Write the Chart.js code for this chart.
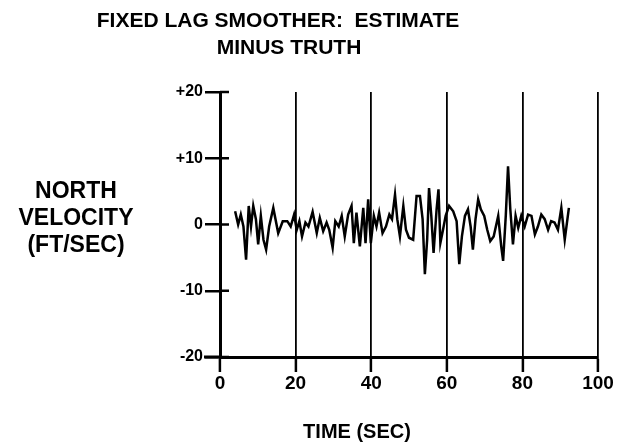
<!DOCTYPE html>
<html>
<head>
<meta charset="utf-8">
<script src="https://cdn.jsdelivr.net/npm/chart.js@4"></script>
<style>
  html, body { margin: 0; padding: 0; background: #fff; }
  canvas { display: block; }
</style>
</head>
<body>
<canvas id="smootherChart" width="617" height="445"></canvas>
<script>
// Values
const timeSec = [4.0, 4.8, 5.5, 6.2, 6.9, 7.6, 8.2, 8.8, 9.5, 10.1, 10.8, 11.5, 12.2, 13.0, 14.1, 15.4, 16.6, 17.8, 18.7, 19.6,
  20.3, 21.0, 21.7, 22.6, 23.4, 24.5, 25.6, 26.4, 27.3, 28.2, 28.9, 29.8, 30.5, 31.4, 32.2, 33.0, 33.9, 34.8, 35.4, 36.1,
  37.0, 37.9, 38.5, 39.2, 39.9, 40.7, 41.4, 42.1, 43.0, 43.9, 44.8, 45.5, 46.3, 46.9, 47.6, 48.5, 49.2, 50.0, 51.1, 52.0,
  52.9, 53.6, 54.2, 54.8, 55.3, 55.9, 56.5, 57.3, 57.8, 58.3, 59.0, 59.7, 60.6, 61.7, 62.6, 63.3, 64.0, 64.8, 65.6, 66.3,
  66.9, 67.6, 68.3, 69.0, 69.9, 70.7, 71.5, 72.4, 73.6, 74.4, 74.9, 75.6, 76.2, 76.8, 77.5, 78.2, 78.9, 79.7, 80.6, 81.5,
  82.4, 83.3, 84.1, 85.0, 85.9, 86.8, 87.6, 88.5, 89.4, 90.3, 91.2, 92.3];
const northVelocity = [2.0, 0.0, 1.5, -0.3, -5.3, 2.8, -0.3, 2.8, 0.8, -3.0, 1.3, -2.3, -3.8, -0.3, 2.5, -1.3, 0.5, 0.5, -0.3, 1.5,
  -0.8, 0.5, -1.8, 0.3, -0.3, 1.9, -1.3, 1.0, -1.0, 0.3, -0.8, -3.5, 0.5, -0.3, 1.3, -1.8, 1.5, 2.8, -2.8, 1.8,
  -3.3, 2.5, -2.8, 3.8, -2.8, 1.3, -0.3, 1.8, -1.3, -0.3, 1.5, 0.8, 4.5, 0.8, -1.8, 2.8, -0.8, -2.0, -2.3, 4.3,
  4.3, 0.8, -7.5, -2.3, 5.5, 1.3, -4.3, 2.3, 5.3, -2.8, -0.8, 1.3, 2.8, 2.0, 0.5, -6.0, -1.8, 1.3, 2.3, -0.3,
  -3.8, 0.8, 3.8, 2.3, 1.3, -0.8, -2.5, -1.8, 1.3, -3.3, -5.5, 1.3, 8.8, 2.3, -3.0, 1.3, -0.5, 1.3, -0.3, 1.5,
  1.3, -1.5, -0.3, 1.5, 0.8, -0.8, 0.5, 0.3, -0.8, 2.5, -2.3, 2.5];
const xTicks = [0, 20, 40, 60, 80, 100];
const yTicks = [-20, -10, 0, 10, 20];

const titleLines = ["FIXED LAG SMOOTHER:  ESTIMATE", "MINUS TRUTH"];
const yLabelLines = ["NORTH", "VELOCITY", "(FT/SEC)"];
const xLabel = "TIME (SEC)";

const FONT = "'Liberation Sans', Arial, sans-serif";

// titles, axis labels and ticks that cross the axis lines
const textPlugin = {
  id: "textPlugin",
  afterDraw(chart) {
    const ctx = chart.ctx;
    const area = chart.chartArea;
    const yScale = chart.scales.y;
    ctx.save();
    ctx.fillStyle = "#000";
    ctx.textAlign = "center";
    ctx.textBaseline = "middle";

    ctx.font = "bold 21px " + FONT;
    ctx.fillText(titleLines[0], 278, 21);
    ctx.fillText(titleLines[1], 289, 48);

    ctx.font = "bold 23px " + FONT;
    yLabelLines.forEach((line, i) => ctx.fillText(line, 76, 192 + i * 27));

    ctx.font = "bold 20px " + FONT;
    ctx.fillText(xLabel, 357, 432);

    // inner part of the y ticks
    ctx.strokeStyle = "#000";
    ctx.lineWidth = 2.5;
    yScale.ticks.forEach(t => {
      const py = yScale.getPixelForValue(t.value);
      ctx.beginPath();
      ctx.moveTo(area.left, py);
      ctx.lineTo(area.left + 9, py);
      ctx.stroke();
    });
    // x axis runs a little left of zero
    ctx.lineWidth = 3;
    ctx.beginPath();
    ctx.moveTo(area.left - 16, area.bottom);
    ctx.lineTo(area.left, area.bottom);
    ctx.stroke();
    ctx.restore();
  }
};

new Chart(document.getElementById("smootherChart").getContext("2d"), {
  type: "line",
  data: {
    datasets: [{
      data: timeSec.map((t, i) => ({ x: t, y: northVelocity[i] })),
      borderColor: "#000",
      borderWidth: 2.5,
      pointRadius: 0,
      tension: 0
    }]
  },
  options: {
    responsive: false,
    animation: false,
    layout: { padding: { left: 0, right: 19, top: 92, bottom: 0 } },
    plugins: {
      legend: { display: false },
      tooltip: { enabled: false }
    },
    scales: {
      x: {
        type: "linear",
        min: 0,
        max: 100,
        afterFit: s => { s.height = 88; },
        afterBuildTicks: s => { s.ticks = xTicks.map(v => ({ value: v })); },
        ticks: {
          color: "#000",
          padding: 0,
          maxRotation: 0,
          font: { family: FONT, size: 19, weight: "bold" }
        },
        grid: { color: "#000", lineWidth: 1.8, tickLength: 15, tickWidth: 2.5 },
        border: { display: true, color: "#000", width: 3 }
      },
      y: {
        min: -20,
        max: 20,
        afterFit: s => { s.width = 220; },
        afterBuildTicks: s => { s.ticks = yTicks.map(v => ({ value: v })); },
        ticks: {
          color: "#000",
          padding: 2,
          font: { family: FONT, size: 16, weight: "bold" },
          callback: v => (v > 0 ? "+" + v : String(v))
        },
        grid: { drawOnChartArea: false, color: "#000", lineWidth: 2.5, tickLength: 15 },
        border: { display: true, color: "#000", width: 3 }
      }
    }
  },
  plugins: [textPlugin]
});
</script>
</body>
</html>
